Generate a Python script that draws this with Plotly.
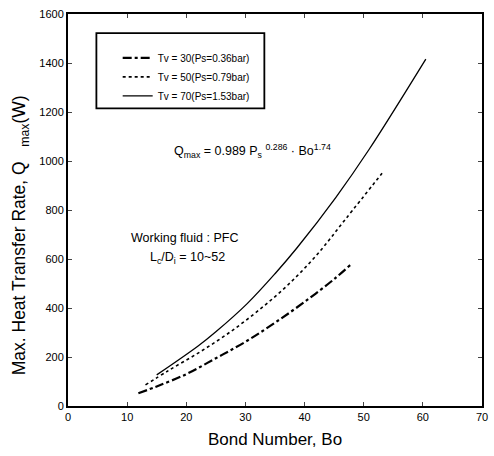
import plotly.graph_objects as go

# Tv = 30 (Ps = 0.36 bar)
bo_30 = [11.9, 15.0, 20.0, 25.0, 30.0, 35.0, 40.0, 45.0, 47.8]
q_30 = [52, 80, 130, 195, 262, 340, 425, 518, 577]
# Tv = 50 (Ps = 0.79 bar)
bo_50 = [13.1, 17.0, 22.0, 27.0, 32.0, 37.0, 42.0, 47.0, 53.1]
q_50 = [86, 145, 216, 295, 386, 490, 615, 765, 950]
# Tv = 70 (Ps = 1.53 bar)
bo_70 = [15.0, 22.0, 25.0, 30.3, 35.0, 38.7, 45.3, 50.9, 60.5]
q_70 = [127, 245, 303, 418, 540, 645, 852, 1047, 1416]

names = ["Tv = 30(Ps=0.36bar)", "Tv = 50(Ps=0.79bar)", "Tv = 70(Ps=1.53bar)"]
x_ticks = [0, 10, 20, 30, 40, 50, 60, 70]
y_ticks = [0, 200, 400, 600, 800, 1000, 1200, 1400, 1600]

FONT = "Liberation Sans, Arial, sans-serif"

fig = go.Figure()
fig.add_trace(go.Scatter(x=bo_30, y=q_30, mode="lines", name=names[0],
                         line=dict(color="black", width=2.2, dash="dashdot", shape="spline",
                                   smoothing=1.0)))
fig.add_trace(go.Scatter(x=bo_50, y=q_50, mode="lines", name=names[1],
                         line=dict(color="black", width=1.6, dash="dot", shape="spline",
                                   smoothing=1.0)))
fig.add_trace(go.Scatter(x=bo_70, y=q_70, mode="lines", name=names[2],
                         line=dict(color="black", width=1.3, shape="spline", smoothing=1.0)))

# legend frame
fig.add_shape(type="rect", xref="x", yref="y", x0=4.8, x1=33.2, y0=1215, y1=1522,
              line=dict(color="black", width=1.8))

fig.add_annotation(x=31.2, y=1040, xref="x", yref="y", showarrow=False,
                   text="Q<sub>max</sub> = 0.989 P<sub>s</sub> <sup>0.286</sup> · Bo<sup>1.74</sup>",
                   font=dict(size=12.5, color="black", family=FONT))
fig.add_annotation(x=19.7, y=687, xref="x", yref="y", showarrow=False,
                   text="Working fluid : PFC",
                   font=dict(size=12.5, color="black", family=FONT))
fig.add_annotation(x=20.2, y=605, xref="x", yref="y", showarrow=False,
                   text="L<sub>c</sub>/D<sub>i</sub> = 10~52",
                   font=dict(size=12.5, color="black", family=FONT))
# y-axis title
fig.add_annotation(x=-0.114, y=0.435, xref="paper", yref="paper", showarrow=False,
                   textangle=-90, xanchor="center", yanchor="middle",
                   text="Max. Heat Transfer Rate, Q   <sub>max</sub>(W)",
                   font=dict(size=17.5, color="black", family=FONT))

fig.update_layout(
    width=494, height=456,
    margin=dict(l=68, r=6, t=14, b=50),
    paper_bgcolor="white", plot_bgcolor="white",
    font=dict(family=FONT, color="black", size=11),
    showlegend=True,
    legend=dict(x=0.12, y=0.925, xanchor="left", yanchor="top",
                bgcolor="rgba(0,0,0,0)", borderwidth=0,
                font=dict(size=10, family=FONT), tracegroupgap=0,
                itemwidth=30),
    xaxis=dict(range=[0, 70], tickvals=x_ticks, ticks="inside", ticklen=4,
               showgrid=False, zeroline=False, showline=True, linecolor="black",
               linewidth=2, mirror="ticks",
               title=dict(text="Bond Number, Bo", font=dict(size=17), standoff=11)),
    yaxis=dict(range=[0, 1600], tickvals=y_ticks, ticks="inside", ticklen=4,
               showgrid=False, zeroline=False, showline=True, linecolor="black",
               linewidth=2, mirror="ticks"),
)

fig.write_html("out.html")
